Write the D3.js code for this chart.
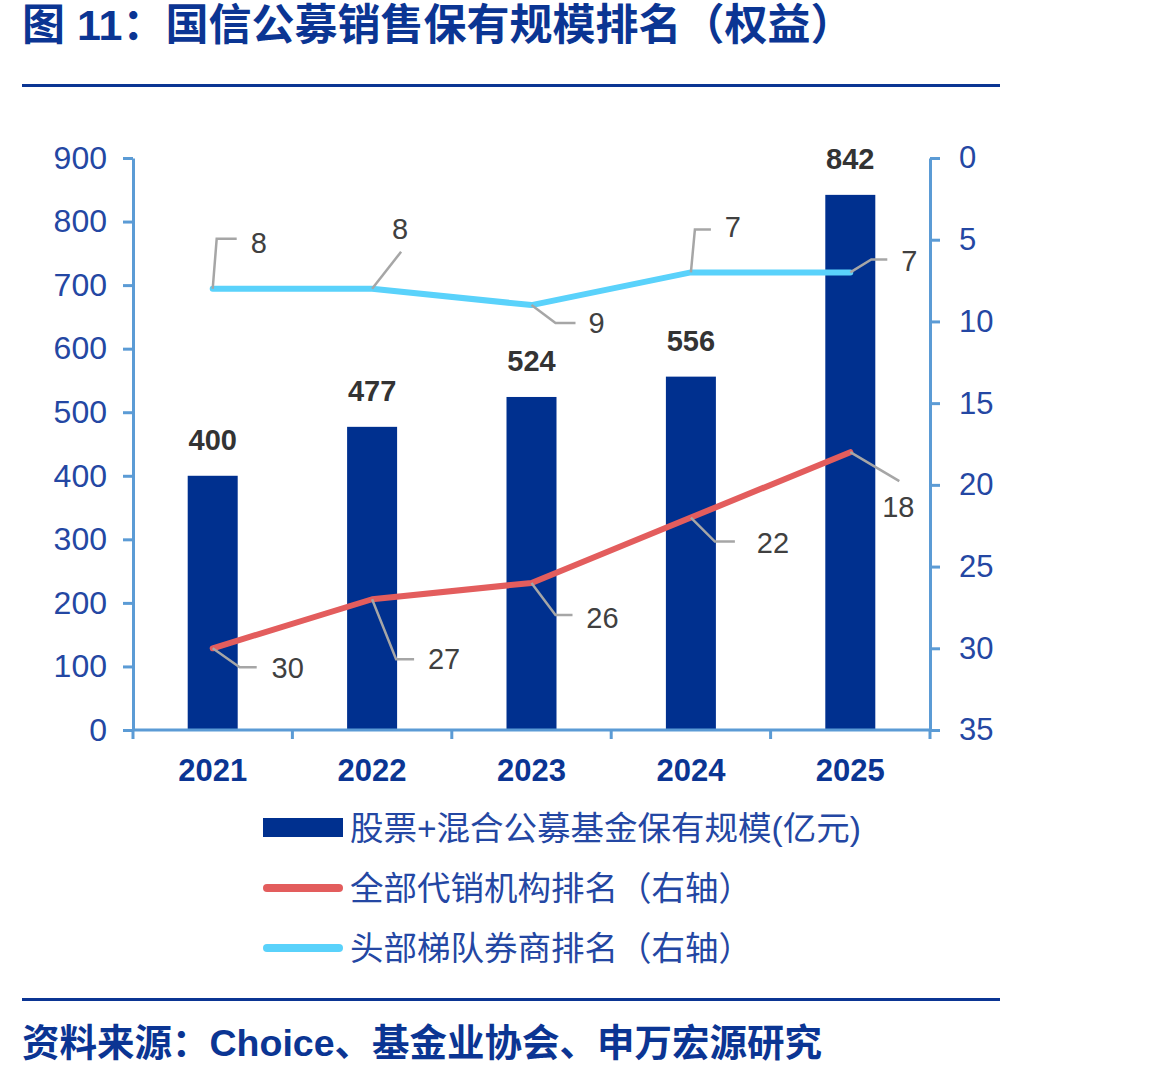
<!DOCTYPE html>
<html>
<head>
<meta charset="utf-8">
<script src="https://cdn.jsdelivr.net/npm/d3@7"></script>
<style>
  body { margin: 0; background: #fff; }
  text { font-family: "Liberation Sans", Arial, "Noto Sans CJK SC", sans-serif; }
  .cjk { font-family: "Liberation Sans", "Noto Sans CJK SC", sans-serif; }
</style>
</head>
<body>
<div id="chart"></div>
<script>
var years = ["2021", "2022", "2023", "2024", "2025"];
var holdings = [400, 477, 524, 556, 842];
var allRank = [30, 27, 26, 22, 18];
var topRank = [8, 8, 9, 7, 7];
var leftTicks = [0, 100, 200, 300, 400, 500, 600, 700, 800, 900];
var rightTicks = [0, 5, 10, 15, 20, 25, 30, 35];
var legendNames = ["股票+混合公募基金保有规模(亿元)", "全部代销机构排名（右轴）", "头部梯队券商排名（右轴）"];

// leader lines for the point labels (offsets from the point)
var topLeaders = [
    {path: [[0,0],[4,-50],[24,-50]], lx: 46, ly: -46},
    {path: [[0,0],[29,-37]], lx: 28, ly: -60},
    {path: [[0,0],[24,18],[44,18]], lx: 65, ly: 18},
    {path: [[0,0],[4,-43],[20,-43]], lx: 42, ly: -45},
    {path: [[0,0],[21,-13],[37,-13]], lx: 59, ly: -11}
];
var allLeaders = [
    {path: [[0,0],[27,19],[44,19]], lx: 75, ly: 20},
    {path: [[0,0],[24,60],[42,60]], lx: 72, ly: 60},
    {path: [[0,0],[24,32],[41,32]], lx: 71, ly: 35},
    {path: [[0,0],[24,24],[44,24]], lx: 82, ly: 25},
    {path: [[0,0],[49,29]], lx: 48, ly: 55}
];

var width = 1169, height = 1076;
var plotLeft = 133, plotRight = 930, plotTop = 158, plotBottom = 730;
var navy = "#0b3593", axisColor = "#5b9bd5", tickText = "#2447a3";
var barColor = "#00308f", redColor = "#e35d5d", cyanColor = "#5ad2fb";

var svg = d3.select("#chart").append("svg")
    .attr("width", width)
    .attr("height", height);

// title and rules
svg.append("text").attr("class", "cjk")
    .attr("x", 22).attr("y", 40)
    .attr("font-size", 43).attr("font-weight", "bold")
    .attr("fill", navy)
    .text("图 11：国信公募销售保有规模排名（权益）");
svg.append("rect").attr("x", 22).attr("y", 84).attr("width", 978).attr("height", 3).attr("fill", navy);
svg.append("rect").attr("x", 22).attr("y", 998).attr("width", 978).attr("height", 3).attr("fill", navy);
svg.append("text").attr("class", "cjk")
    .attr("x", 22).attr("y", 1056)
    .attr("font-size", 37.5).attr("font-weight", "bold")
    .attr("fill", navy)
    .text("资料来源：Choice、基金业协会、申万宏源研究");

var x = d3.scaleBand().domain(years).range([plotLeft, plotRight]);
var yL = d3.scaleLinear().domain([0, 900]).range([plotBottom, plotTop]);
var yR = d3.scaleLinear().domain([0, 35]).range([plotTop, plotBottom]);
var cx = function(d) { return x(d) + x.bandwidth() / 2; };

// bars
var barW = 50;
svg.append("g").selectAll("rect").data(holdings).enter().append("rect")
    .attr("x", function(d, i) { return cx(years[i]) - barW / 2; })
    .attr("y", function(d) { return yL(d); })
    .attr("width", barW)
    .attr("height", function(d) { return plotBottom - yL(d); })
    .attr("fill", barColor);
svg.append("g").selectAll("text").data(holdings).enter().append("text")
    .attr("x", function(d, i) { return cx(years[i]); })
    .attr("y", function(d) { return yL(d) - 26; })
    .attr("text-anchor", "middle")
    .attr("font-size", 29).attr("font-weight", "bold")
    .attr("fill", "#333")
    .text(function(d) { return d; });

// axes
function styleAxis(size) {
    return function(g) {
        g.selectAll("path, line").attr("stroke", axisColor).attr("stroke-width", 3);
        g.selectAll("text").attr("fill", tickText).attr("font-size", size)
            .attr("font-family", "Liberation Sans, Arial, sans-serif");
    };
}
svg.append("g").attr("transform", "translate(" + plotLeft + ",0)")
    .call(d3.axisLeft(yL).tickValues(leftTicks).tickSize(10).tickSizeOuter(0).tickPadding(16))
    .call(styleAxis(32));
svg.append("g").attr("transform", "translate(" + plotRight + ",0)")
    .call(d3.axisRight(yR).tickValues(rightTicks).tickSize(10).tickSizeOuter(0).tickPadding(19))
    .call(styleAxis(31));

var bounds = years.map(function(d) { return x(d); }).concat([plotRight]);
var xAxis = svg.append("g");
xAxis.append("line")
    .attr("x1", plotLeft).attr("x2", plotRight).attr("y1", plotBottom).attr("y2", plotBottom)
    .attr("stroke", axisColor).attr("stroke-width", 3);
xAxis.selectAll("line.tick").data(bounds).enter().append("line")
    .attr("class", "tick")
    .attr("x1", function(d) { return d; }).attr("x2", function(d) { return d; })
    .attr("y1", plotBottom).attr("y2", plotBottom + 9)
    .attr("stroke", axisColor).attr("stroke-width", 3);
xAxis.selectAll("text").data(years).enter().append("text")
    .attr("x", function(d) { return cx(d); })
    .attr("y", plotBottom + 51)
    .attr("text-anchor", "middle")
    .attr("font-size", 31).attr("font-weight", "bold")
    .attr("fill", navy)
    .text(function(d) { return d; });

// lines
function drawRank(values, color, leaders) {
    var pts = values.map(function(v, i) { return [cx(years[i]), yR(v)]; });
    svg.append("path")
        .attr("d", d3.line()(pts))
        .attr("fill", "none")
        .attr("stroke", color)
        .attr("stroke-width", 6)
        .attr("stroke-linejoin", "round")
        .attr("stroke-linecap", "round");
    var g = svg.append("g");
    pts.forEach(function(p, i) {
        var l = leaders[i];
        g.append("path")
            .attr("d", d3.line()(l.path.map(function(q) { return [p[0] + q[0], p[1] + q[1]]; })))
            .attr("fill", "none")
            .attr("stroke", "#a6a6a6")
            .attr("stroke-width", 2.5);
        g.append("text")
            .attr("x", p[0] + l.lx).attr("y", p[1] + l.ly)
            .attr("text-anchor", "middle")
            .attr("dominant-baseline", "central")
            .attr("font-size", 29)
            .attr("fill", "#404040")
            .text(values[i]);
    });
}
drawRank(topRank, cyanColor, topLeaders);
drawRank(allRank, redColor, allLeaders);

// legend
var legend = svg.append("g");
legend.append("rect").attr("x", 263).attr("y", 818).attr("width", 80).attr("height", 19).attr("fill", barColor);
[[redColor, 888], [cyanColor, 948]].forEach(function(s) {
    legend.append("line")
        .attr("x1", 267).attr("x2", 339).attr("y1", s[1]).attr("y2", s[1])
        .attr("stroke", s[0]).attr("stroke-width", 8).attr("stroke-linecap", "round");
});
legend.selectAll("text").data(legendNames).enter().append("text")
    .attr("class", "cjk")
    .attr("x", 350)
    .attr("y", function(d, i) { return 828 + i * 60; })
    .attr("dominant-baseline", "central")
    .attr("font-size", 33.5)
    .attr("fill", "#2447a3")
    .text(function(d) { return d; });
</script>
</body>
</html>
